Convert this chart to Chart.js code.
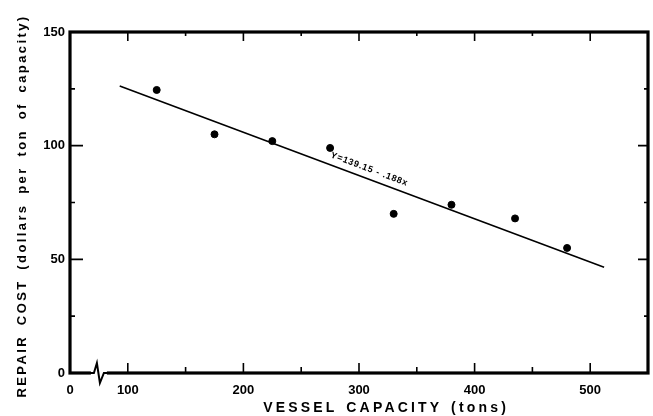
<!DOCTYPE html>
<html>
<head>
<meta charset="utf-8">
<script src="https://cdn.jsdelivr.net/npm/chart.js@4/dist/chart.umd.min.js"></script>
<style>
  html, body { margin: 0; padding: 0; background: #fff; }
  #wrap { width: 653px; height: 416px; }
</style>
</head>
<body>
<div id="wrap"><canvas id="chart" width="653" height="416"></canvas></div>
<script>
// Vessel capacity (tons) vs repair cost (dollars per ton of capacity)
const capacity = [125, 175, 225, 275, 330, 380, 435, 480];
const repairCost = [124.5, 105, 102, 99, 70, 74, 68, 55];

const fitX = [93, 512];
const fitY = [126.3, 46.5];
const fitLabel = "Y=139.15 - .188x";

// ticks
const xTicks = [100, 200, 300, 400, 500];
const xMinor = [150, 250, 350, 450];
const yTicks = [0, 50, 100, 150];
const yMinor = [25, 75, 125];

const font = "'Liberation Sans', Arial, sans-serif";

// draw words with fixed letter spacing, spreading the gaps so the text fills target width
function spacedText(ctx, txt, cx, cy, target, ls) {
  const words = txt.split(" ");
  ctx.letterSpacing = ls + "px";
  const widths = words.map(w => ctx.measureText(w).width);
  const total = widths.reduce((s, w) => s + w, 0);
  const gap = words.length > 1 ? (target - total) / (words.length - 1) : 0;
  ctx.textAlign = "left";
  ctx.textBaseline = "middle";
  let px = cx - target / 2;
  words.forEach((w, i) => {
    ctx.fillText(w, px, cy);
    px += widths[i] + gap;
  });
  ctx.letterSpacing = "0px";
}

// frame, inward ticks, axis break, titles, equation
const framePlugin = {
  id: "frame",
  afterDatasetsDraw(chart) {
    const { ctx, chartArea: a, scales: { x, y } } = chart;
    ctx.save();
    ctx.strokeStyle = "#000";
    ctx.fillStyle = "#000";

    // box
    ctx.lineWidth = 3.2;
    ctx.strokeRect(a.left, a.top, a.right - a.left, a.bottom - a.top);

    // ticks
    ctx.lineWidth = 1.6;
    ctx.beginPath();
    xTicks.forEach(v => {
      const px = x.getPixelForValue(v);
      ctx.moveTo(px, a.bottom); ctx.lineTo(px, a.bottom - 10);
      ctx.moveTo(px, a.top); ctx.lineTo(px, a.top + 9);
    });
    xMinor.forEach(v => {
      const px = x.getPixelForValue(v);
      ctx.moveTo(px, a.bottom); ctx.lineTo(px, a.bottom - 6);
      ctx.moveTo(px, a.top); ctx.lineTo(px, a.top + 4);
    });
    yTicks.slice(1, -1).forEach(v => {
      const py = y.getPixelForValue(v);
      ctx.moveTo(a.left, py); ctx.lineTo(a.left + 13, py);
      ctx.moveTo(a.right, py); ctx.lineTo(a.right - 10, py);
    });
    yMinor.forEach(v => {
      const py = y.getPixelForValue(v);
      ctx.moveTo(a.left, py); ctx.lineTo(a.left + 5, py);
      ctx.moveTo(a.right, py); ctx.lineTo(a.right - 4, py);
    });
    ctx.stroke();

    // axis break
    const bx = x.getPixelForValue(75);
    ctx.fillStyle = "#fff";
    ctx.fillRect(bx - 8, a.bottom - 3, 16, 6);
    ctx.strokeStyle = "#000";
    ctx.lineWidth = 2;
    ctx.beginPath();
    ctx.moveTo(bx - 9, a.bottom);
    ctx.lineTo(bx - 5, a.bottom);
    ctx.lineTo(bx - 2, a.bottom - 10);
    ctx.lineTo(bx + 1, a.bottom + 10);
    ctx.lineTo(bx + 5, a.bottom);
    ctx.lineTo(bx + 9, a.bottom);
    ctx.stroke();

    // axis titles
    ctx.fillStyle = "#000";
    ctx.font = "bold 14px " + font;
    spacedText(ctx, "VESSEL CAPACITY (tons)", a.left + 0.547 * (a.right - a.left), 408, 246, 3.2);
    ctx.save();
    ctx.translate(22, 206);
    ctx.rotate(-Math.PI / 2);
    ctx.font = "bold 13px " + font;
    spacedText(ctx, "REPAIR COST (dollars per ton of capacity)", 0, 0, 383, 2.4);
    ctx.restore();

    // equation along the line
    const p0 = { x: x.getPixelForValue(fitX[0]), y: y.getPixelForValue(fitY[0]) };
    const p1 = { x: x.getPixelForValue(fitX[1]), y: y.getPixelForValue(fitY[1]) };
    const ang = Math.atan2(p1.y - p0.y, p1.x - p0.x);
    ctx.save();
    ctx.translate(x.getPixelForValue(309), y.getPixelForValue(89.6));
    ctx.rotate(ang);
    ctx.font = "bold 9px " + font;
    ctx.letterSpacing = "0.8px";
    ctx.textAlign = "center";
    ctx.textBaseline = "middle";
    ctx.fillText(fitLabel, 0, 0);
    ctx.restore();

    ctx.restore();
  }
};

new Chart(document.getElementById("chart"), {
  type: "scatter",
  data: {
    datasets: [
      {
        data: capacity.map((c, i) => ({ x: c, y: repairCost[i] })),
        backgroundColor: "#000",
        borderColor: "#000",
        pointRadius: 3.5,
        pointHoverRadius: 3.5
      },
      {
        type: "line",
        data: fitX.map((c, i) => ({ x: c, y: fitY[i] })),
        borderColor: "#000",
        borderWidth: 1.6,
        pointRadius: 0,
        fill: false
      }
    ]
  },
  options: {
    responsive: false,
    animation: false,
    events: [],
    layout: { padding: { top: 32, right: 5, left: 0, bottom: 0 } },
    plugins: { legend: { display: false }, tooltip: { enabled: false } },
    scales: {
      x: {
        type: "linear",
        min: 50,
        max: 550,
        grid: { display: false, drawTicks: false },
        border: { display: false },
        afterBuildTicks: s => { s.ticks = [50, ...xTicks].map(v => ({ value: v })); },
        afterFit: s => { s.height = 43; },
        ticks: {
          color: "#000",
          padding: 10,
          font: { family: font, size: 13, weight: "bold" },
          callback: v => (v === 50 ? "0" : String(v))
        }
      },
      y: {
        min: 0,
        max: 150,
        grid: { display: false, drawTicks: false },
        border: { display: false },
        afterBuildTicks: s => { s.ticks = yTicks.map(v => ({ value: v })); },
        afterFit: s => { s.width = 70; },
        ticks: {
          color: "#000",
          padding: 5,
          font: { family: font, size: 13, weight: "bold" }
        }
      }
    }
  },
  plugins: [framePlugin]
});
</script>
</body>
</html>
